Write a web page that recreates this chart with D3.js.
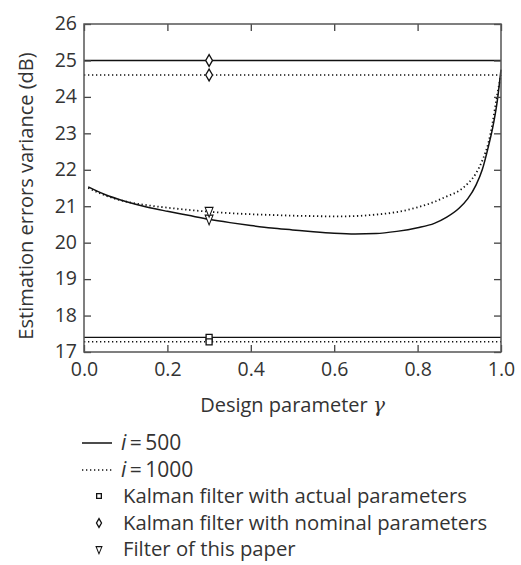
<!DOCTYPE html>
<html lang="en">
<head>
<meta charset="UTF-8">
<title>Estimation errors variance</title>
<script src="https://d3js.org/d3.v7.min.js"></script>
<style>
    body { margin: 0; background: white; }
    text { font-family: "Open Sans", sans-serif; fill: #333; }
</style>
</head>
<body>
<div id="chart"></div>
<script>
    // design parameter gamma (x) and the two curves
    const gamma = [0.01, 0.05, 0.1, 0.15, 0.2, 0.25, 0.3, 0.35, 0.4, 0.45, 0.5, 0.55, 0.6, 0.65, 0.7, 0.75, 0.8, 0.84, 0.87, 0.9, 0.92, 0.94, 0.955, 0.97, 0.98, 0.99, 1.0]
    const i500 = [21.53, 21.32, 21.13, 20.98, 20.86, 20.75, 20.64, 20.55, 20.47, 20.40, 20.35, 20.30, 20.26, 20.24, 20.25, 20.31, 20.41, 20.53, 20.7, 20.95, 21.2, 21.58, 22.0, 22.65, 23.15, 23.8, 24.75]
    const i1000 = [21.5, 21.3, 21.13, 21.03, 20.96, 20.9, 20.85, 20.81, 20.78, 20.76, 20.74, 20.73, 20.72, 20.73, 20.77, 20.84, 20.97, 21.12, 21.27, 21.43, 21.62, 21.9, 22.25, 22.75, 23.3, 24.0, 24.6]

    // reference filters (constant over gamma), marked at gamma = 0.3
    const kalmanActual = [17.4, 17.28]   // i=500, i=1000
    const kalmanNominal = [25.0, 24.6]
    const thisPaper = [20.64, 20.85]
    const markerX = 0.3

    const xTicks = [0.0, 0.2, 0.4, 0.6, 0.8, 1.0]
    const yTicks = [17, 18, 19, 20, 21, 22, 23, 24, 25, 26]

    const width = 521, height = 565
    const pLeft = 84, pRight = 501, pTop = 24, pBottom = 352

    const svg = d3.select("#chart").append("svg")
        .attr("width", width)
        .attr("height", height)

    const x = d3.scaleLinear().domain([0, 1]).range([pLeft, pRight])
    const y = d3.scaleLinear().domain([17, 26]).range([pBottom, pTop])

    const dotted = "1.3,2.7"

    // horizontal reference lines
    const refs = [
        {v: kalmanNominal[0], dash: null},
        {v: kalmanNominal[1], dash: dotted},
        {v: kalmanActual[0], dash: null},
        {v: kalmanActual[1], dash: dotted}
    ]
    svg.selectAll("line.ref").data(refs).join("line")
        .attr("class", "ref")
        .attr("x1", x(0)).attr("x2", x(1))
        .attr("y1", d => y(d.v)).attr("y2", d => y(d.v))
        .attr("stroke", "#111")
        .attr("stroke-width", d => d.dash ? 1.6 : 1.4)
        .attr("stroke-dasharray", d => d.dash)

    // curves
    const line = d3.line().x((d, i) => x(gamma[i])).y(d => y(d)).curve(d3.curveMonotoneX)
    svg.append("path").datum(i1000)
        .attr("d", line)
        .attr("fill", "none")
        .attr("stroke", "#111")
        .attr("stroke-width", 1.8)
        .attr("stroke-dasharray", dotted)
    svg.append("path").datum(i500)
        .attr("d", line)
        .attr("fill", "none")
        .attr("stroke", "#111")
        .attr("stroke-width", 1.5)

    // axes with inward ticks
    const tick = 7
    svg.append("g")
        .attr("transform", "translate(0," + pBottom + ")")
        .call(d3.axisBottom(x).tickValues(xTicks).tickFormat(d3.format(".1f")).tickSize(-tick).tickPadding(10))
    svg.append("g")
        .attr("transform", "translate(0," + pTop + ")")
        .call(d3.axisTop(x).tickValues(xTicks).tickFormat("").tickSize(-tick))
    svg.append("g")
        .attr("class", "yax")
        .attr("transform", "translate(" + pLeft + ",0)")
        .call(d3.axisLeft(y).tickValues(yTicks).tickSize(-tick).tickPadding(7))
    svg.append("g")
        .attr("transform", "translate(" + pRight + ",0)")
        .call(d3.axisRight(y).tickValues(yTicks).tickFormat("").tickSize(-tick))

    svg.selectAll(".domain").remove()
    svg.selectAll(".tick line").attr("stroke", "#444").attr("stroke-width", 1.3)
    svg.selectAll(".tick text")
        .style("font-family", "'Open Sans', sans-serif")
        .style("font-size", "19.5px")
        .attr("fill", "#333")
    svg.selectAll(".yax .tick text").attr("dy", "0.3em")

    svg.append("rect")
        .attr("x", pLeft).attr("y", pTop)
        .attr("width", pRight - pLeft).attr("height", pBottom - pTop)
        .attr("fill", "none")
        .attr("stroke", "#555")
        .attr("stroke-width", 1.5)

    // markers
    const sym = {
        square: d3.symbol().type(d3.symbolSquare),
        diamond: d3.symbol().type(d3.symbolDiamond),
        triangle: d3.symbol().type(d3.symbolTriangle)
    }
    function marker(type, size, cx, cy, rot) {
        svg.append("path")
            .attr("d", sym[type].size(size)())
            .attr("transform", "translate(" + cx + "," + cy + ")" + (rot ? " rotate(" + rot + ") scale(0.7,1)" : ""))
            .attr("fill", "white")
            .attr("stroke", "#111")
            .attr("stroke-width", 1.3)
    }
    kalmanActual.forEach(v => marker("square", 36, x(markerX), y(v)))
    kalmanNominal.forEach(v => marker("diamond", 40, x(markerX), y(v)))
    thisPaper.forEach(v => marker("triangle", 55, x(markerX), y(v) - 1, 180))

    // axis titles
    svg.append("text")
        .attr("x", (pLeft + pRight) / 2)
        .attr("y", 412)
        .attr("text-anchor", "middle")
        .style("font-size", "20px")
        .text("Design parameter ")
        .append("tspan").style("font-style", "italic").style("font-family", "'DejaVu Serif', serif").text("γ")

    svg.append("text")
        .attr("transform", "translate(33,196) rotate(-90)")
        .attr("text-anchor", "middle")
        .style("font-size", "20px")
        .text("Estimation errors variance (dB)")

    // legend
    const legendY = [450, 477, 503, 530, 556]
    const lx0 = 82, lx1 = 112, tx = 121
    svg.append("line").attr("x1", lx0).attr("x2", lx1).attr("y1", legendY[0] - 7).attr("y2", legendY[0] - 7)
        .attr("stroke", "#111").attr("stroke-width", 1.5)
    svg.append("line").attr("x1", lx0).attr("x2", lx1).attr("y1", legendY[1] - 7).attr("y2", legendY[1] - 7)
        .attr("stroke", "#111").attr("stroke-width", 1.6).attr("stroke-dasharray", dotted)

    const iLabels = ["500", "1000"]
    iLabels.forEach((n, k) => {
        const t = svg.append("text").attr("x", tx).attr("y", legendY[k]).style("font-size", "21px")
        t.append("tspan").style("font-style", "italic").text("i")
        t.append("tspan").text("\u2009=\u2009" + n)
    })

    const mx = 99
    marker("square", 22, mx, legendY[2] - 7)
    marker("diamond", 22, mx, legendY[3] - 7)
    marker("triangle", 30, mx, legendY[4] - 7, 180)

    const mLabels = ["Kalman filter with actual parameters", "Kalman filter with nominal parameters", "Filter of this paper"]
    mLabels.forEach((s, k) => {
        svg.append("text").attr("x", 123).attr("y", legendY[k + 2]).style("font-size", "20.3px").text(s)
    })
</script>
</body>
</html>
